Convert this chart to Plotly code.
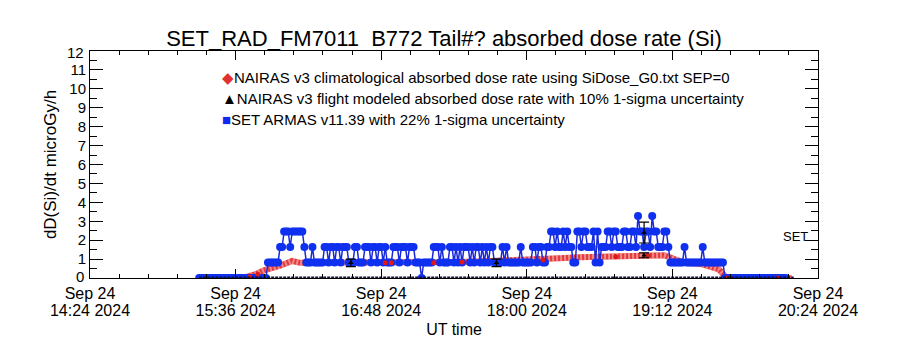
import plotly.graph_objects as go
import pandas as pd

# ---------------- data ----------------
x_tick_vals = ["2024-09-24 14:24", "2024-09-24 15:36", "2024-09-24 16:48",
               "2024-09-24 18:00", "2024-09-24 19:12", "2024-09-24 20:24"]
x_tick_date = ["Sep 24", "Sep 24", "Sep 24", "Sep 24", "Sep 24", "Sep 24"]
x_tick_time = ["14:24 2024", "15:36 2024", "16:48 2024", "18:00 2024", "19:12 2024", "20:24 2024"]
y_tick_vals = list(range(0, 13))
y_tick_text = ["", "1", "2", "3", "4", "5", "6", "7", "8", "9", "10", "11", ""]

# NAIRAS v3 climatological absorbed dose rate (line)
clim_time = ["2024-09-24 15:18", "2024-09-24 15:38", "2024-09-24 15:41", "2024-09-24 15:46",
             "2024-09-24 15:50", "2024-09-24 15:58", "2024-09-24 16:04", "2024-09-24 16:08",
             "2024-09-24 17:07", "2024-09-24 17:27", "2024-09-24 17:42", "2024-09-24 18:06",
             "2024-09-24 18:16", "2024-09-24 18:26", "2024-09-24 18:46", "2024-09-24 19:08",
             "2024-09-24 19:13", "2024-09-24 19:18", "2024-09-24 19:26", "2024-09-24 19:31",
             "2024-09-24 19:35", "2024-09-24 19:38", "2024-09-24 19:40", "2024-09-24 20:11"]
clim_value = [0.0, 0.0, 0.05, 0.2, 0.4, 0.65, 0.9, 0.8,
              0.8, 0.85, 0.9, 0.95, 1.05, 1.1, 1.15, 1.2,
              1.0, 0.8, 0.75, 0.55, 0.45, 0.1, 0.0, 0.0]
# climatological sample points drawn as dots
clim_pt_time = ["2024-09-24 15:43", "2024-09-24 15:47", "2024-09-24 16:50", "2024-09-24 16:53",
                "2024-09-24 17:14", "2024-09-24 17:28", "2024-09-24 18:08", "2024-09-24 18:44",
                "2024-09-24 19:00", "2024-09-24 19:39", "2024-09-24 20:04"]
clim_pt_value = [0.05, 0.2, 0.8, 0.8, 0.8, 0.85, 0.95, 1.12, 1.17, 0.0, 0.0]

# NAIRAS v3 flight modeled absorbed dose rate (with error)
flight_time = ["2024-09-24 16:33", "2024-09-24 17:45", "2024-09-24 18:58", "2024-09-24 18:58"]
flight_value = [0.8, 0.8, 1.2, 2.4]
flight_err = [0.2, 0.2, 0.13, 0.55]
flight_zero_time = ["2024-09-24 15:18", "2024-09-24 20:12"]
flight_zero_value = [0.0, 0.0]

# SET ARMAS v11.39, one sample per minute starting 15:18
armas_start = "2024-09-24 15:18"
armas_value = [
    0, 0, 0, 0, 0, 0, 0, 0, 0, 0,
    0, 0, 0, 0, 0, 0, 0, 0, 0, 0,
    0, 0, 0, 0, 0, 0, 0, 0, 0, 0,
    0, 0, 0, 0, .82, .82, .82, .82, .82, .82,
    1.64, 1.64, 2.46, 2.46, 2.46, 1.64, 2.46, 2.46, 2.46, 2.46,
    2.46, 2.46, 1.64, .82, .82, .82, 1.64, .82, .82, .82,
    .82, .82, 1.64, 1.64, .82, 1.64, 1.64, .82, 1.64, 1.64,
    .82, 1.64, 1.64, 1.64, .82, .82, .82, 1.64, 1.64, .82,
    .82, .82, 1.64, 1.64, 1.64, .82, 1.64, 1.64, .82, 1.64,
    1.64, .82, 1.64, .82, .82, .82, 1.64, 1.64, 1.64, .82,
    1.64, 1.64, 1.64, .82, 1.64, 1.64, 1.64, .82, .82, .82,
    0, .82, .82, .82, .82, .82, 1.64, 1.64, 1.64, .82,
    1.64, .82, .82, .82, 1.64, 1.64, .82, 1.64, .82, 1.64,
    .82, 1.64, 1.64, 1.64, .82, 1.64, .82, 1.64, 1.64, .82,
    1.64, .82, 1.64, .82, 1.64, 1.64, .82, .82, .82, .82,
    1.64, .82, 1.64, .82, .82, .82, .82, .82, .82, 1.64,
    .82, .82, .82, .82, .82, 1.64, 1.64, .82, 1.64, 1.64,
    .82, .82, 1.64, 1.64, 2.46, 2.46, 1.64, 2.46, 1.64, 1.64,
    2.46, 1.64, 2.46, 1.64, 1.64, .82, .82, 2.46, 2.46, 1.64,
    2.46, 2.46, 1.64, 1.64, 1.64, 2.46, .82, 2.46, .82, 1.64,
    1.64, 1.64, 2.46, 2.46, 1.64, 2.46, 2.46, 1.64, 1.64, 1.64,
    2.46, 2.46, 1.64, 1.64, 2.46, 2.46, 1.64, 3.28, 2.46, 2.46,
    1.64, 2.46, 2.46, 1.64, 3.28, 2.46, 2.46, 1.64, 1.64, 1.64,
    2.46, 2.46, 1.64, .82, .82, .82, .82, .82, .82, .82,
    1.64, .82, .82, .82, .82, .82, .82, .82, .82, 1.64,
    .82, .82, .82, .82, .82, .82, .82, .82, .82, .82,
    0, 0, 0, 0, 0, 0, 0, 0, 0, 0,
    0, 0, 0, 0, 0, 0, 0, 0, 0, 0,
    0, 0, 0, 0, 0, 0, 0, 0, 0, 0, 0,
]
armas_time = pd.date_range(armas_start, periods=len(armas_value), freq="1min")

title_text = "SET_RAD_FM7011\u00a0\u00a0B772 Tail#? absorbed dose rate (Si)"
legend_labels = [
    "NAIRAS v3 climatological absorbed dose rate using SiDose_G0.txt SEP=0",
    "NAIRAS v3 flight modeled absorbed dose rate with 10% 1-sigma uncertainty",
    "SET ARMAS v11.39 with 22% 1-sigma uncertainty",
]
legend_colors = ["#e03030", "#000000", "#1028f0"]
legend_symbols = ["\u25c6", "\u25b2", "\u25a0"]

FONT = "Liberation Sans"
X_RANGE = ["2024-09-24 14:24", "2024-09-24 20:24"]

# ---------------- figure ----------------
fig = go.Figure()

fig.add_trace(go.Scatter(
    x=clim_time, y=clim_value, mode="lines",
    line=dict(color="rgb(228,60,60)", width=6),
    hoverinfo="skip", showlegend=False))
fig.add_trace(go.Scatter(
    x=clim_time, y=clim_value, mode="lines",
    line=dict(color="rgba(255,255,255,0.4)", width=6, dash="2px,2px"),
    hoverinfo="skip", showlegend=False))

fig.add_trace(go.Scatter(
    x=armas_time, y=armas_value, mode="lines+markers",
    line=dict(color="#1a2ad8", width=1.5),
    marker=dict(color="#1030f0", size=8, symbol="circle"),
    showlegend=False))

fig.add_trace(go.Scatter(
    x=clim_pt_time, y=clim_pt_value, mode="markers",
    marker=dict(color="#e01818", size=5),
    showlegend=False))

fig.add_trace(go.Scatter(
    x=flight_zero_time, y=flight_zero_value, mode="lines",
    line=dict(color="#101030", width=3, dash="3px,1px"),
    hoverinfo="skip", showlegend=False))
fig.add_trace(go.Scatter(
    x=flight_time, y=flight_value, mode="markers",
    marker=dict(color="black", size=5, symbol="triangle-up"),
    error_y=dict(type="data", array=flight_err, color="black", thickness=1.2, width=5),
    showlegend=False))

# invisible trace that carries the second (time) line of the x tick labels
fig.add_trace(go.Scatter(
    x=X_RANGE, y=[0, 0], xaxis="x2", mode="markers",
    marker=dict(opacity=0), hoverinfo="skip", showlegend=False))

annotations = []
for i, (lab, col, sym) in enumerate(zip(legend_labels, legend_colors, legend_symbols)):
    annotations.append(dict(
        xref="paper", yref="paper",
        x=(220 - 90) / 728, y=1 - ((77 + 21 * i) - 51) / 227,
        xanchor="left", yanchor="middle", showarrow=False,
        text=f"<span style='color:{col}'>{sym}</span>{lab}",
        font=dict(family=FONT, size=15, color="black")))
annotations.append(dict(
    xref="paper", yref="y", x=(810 - 90) / 728, y=2.2,
    xanchor="right", yanchor="middle", showarrow=False,
    text="SET", font=dict(family=FONT, size=13, color="black")))
# end labels of the y axis, kept inside the frame as in the original
annotations.append(dict(
    xref="paper", yref="y", x=0, y=0, xanchor="right", yanchor="middle",
    xshift=-4, yshift=2, showarrow=False, text=str(y_tick_vals[0]),
    font=dict(family=FONT, size=15, color="black")))
annotations.append(dict(
    xref="paper", yref="y", x=0, y=12, xanchor="right", yanchor="middle",
    xshift=-4, yshift=-1, showarrow=False, text=str(y_tick_vals[-1]),
    font=dict(family=FONT, size=15, color="black")))

fig.update_layout(
    width=900, height=350,
    margin=dict(l=90, r=82, t=51, b=72, autoexpand=False),
    paper_bgcolor="white", plot_bgcolor="white",
    title=dict(text=title_text, x=444 / 900, xanchor="center",
               y=1 - 38 / 350, yanchor="middle",
               font=dict(family=FONT, size=22, color="black")),
    font=dict(family=FONT, color="black"),
    annotations=annotations,
    showlegend=False,
    xaxis2=dict(
        type="date", range=X_RANGE, overlaying="x", side="bottom", anchor="y",
        tickmode="array", tickvals=x_tick_vals, ticktext=x_tick_time,
        ticks="", showline=False, showgrid=False, zeroline=False,
        ticklabelstandoff=21, automargin=False,
        tickfont=dict(family=FONT, size=16, color="black"),
    ),
)

fig.layout.xaxis.update(
    type="date",
    range=X_RANGE,
    tickmode="array", tickvals=x_tick_vals, ticktext=x_tick_date,
    ticks="inside", ticklen=9, tickcolor="black", tickwidth=1,
    minor=dict(tickmode="linear", tick0="2024-09-24 14:24", dtick=864000,
               ticks="inside", ticklen=4, tickcolor="black", showgrid=False),
    showline=True, linecolor="black", linewidth=1, mirror="ticks",
    showgrid=False, zeroline=False, automargin=False,
    ticklabelstandoff=1,
    tickfont=dict(family=FONT, size=16, color="black"),
    title=dict(text="UT time", font=dict(family=FONT, size=16, color="black"), standoff=22),
)
fig.update_yaxes(
    range=[0, 12], automargin=False,
    tickmode="array", tickvals=y_tick_vals, ticktext=y_tick_text,
    ticks="inside", ticklen=13, tickcolor="black", tickwidth=1,
    minor=dict(tickmode="linear", tick0=0, dtick=0.5, ticks="inside", ticklen=7,
               tickcolor="black", showgrid=False),
    showline=True, linecolor="black", linewidth=1, mirror="ticks",
    showgrid=False, zeroline=False,
    tickfont=dict(family=FONT, size=15, color="black"),
    title=dict(text="dD(Si)/dt microGy/h", font=dict(family=FONT, size=17, color="black"), standoff=8),
)

fig.write_html("out.html")
